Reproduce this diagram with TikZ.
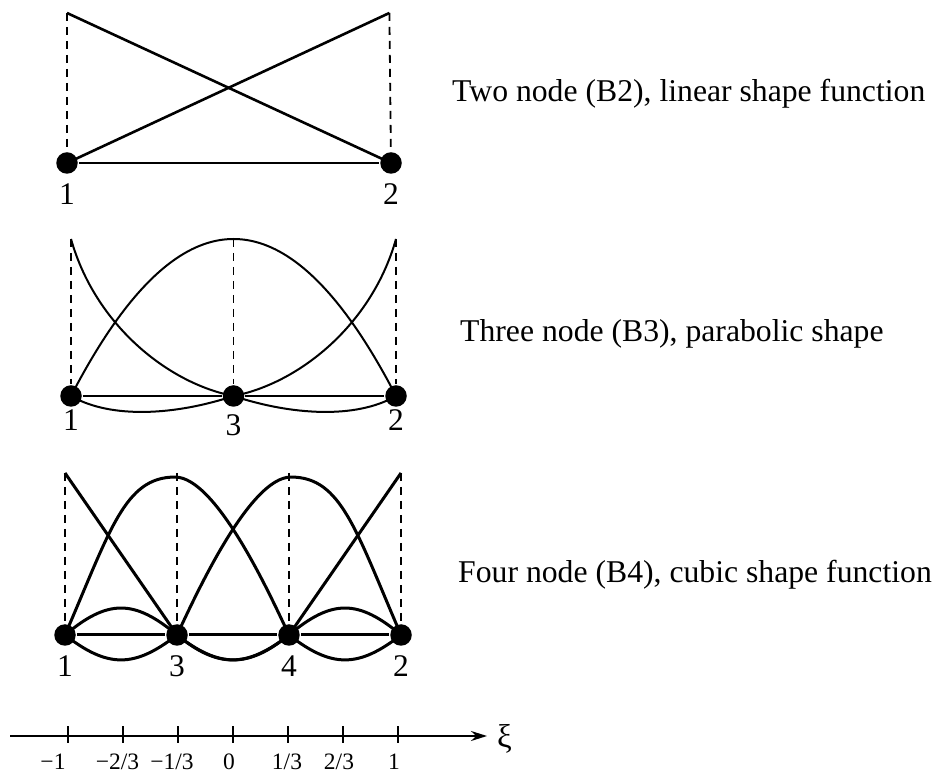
\documentclass[tikz,border=0pt]{standalone}
\usepackage{fontspec}
\setmainfont{Liberation Serif}
\usetikzlibrary{arrows.meta,positioning}
\tikzset{
  nodedot/.style={circle,fill=black,inner sep=0pt,minimum size=21.5pt},
  numlab/.style={font=\fontsize{31.5}{32}\selectfont,inner sep=1pt},
  caption/.style={font=\fontsize{31.7}{36}\selectfont,anchor=base west,inner sep=0pt},
  ticklab/.style={font=\fontsize{23.5}{24}\selectfont,anchor=base,inner sep=0pt},
  dashline/.style={line width=1.8pt,dash pattern=on 8pt off 6pt},
}

\begin{document}
\begin{tikzpicture}[>=Stealth,x=1pt,y=1pt,line join=round]
  \useasboundingbox (0,0) rectangle (941,773);
  % two node element, linear functions
  \begin{scope}[shift={(229,610)},x=162pt,y=150pt,line width=2.6pt]
    \node[nodedot] (a1) at (-1,0) {};
    \node[nodedot] (a2) at (1,0) {};
    \coordinate (a1t) at (-1,1);
    \coordinate (a2t) at (0.99,1);
    \draw (a1t) -- (a2.center);
    \draw (a1.center) -- (a2t);
    \draw (a1) -- (a2);
    \draw[dashline] (a1t) -- (a1);
    \draw[dashline] (a2t) -- (a2);
    \node[numlab,below=6pt of a1] (a1lab) {1};
    \node[numlab,below=6pt of a2] (a2lab) {2};
  \end{scope}
  % three node element, parabolas (end ones drawn by hand)
  \begin{scope}[shift={(233.5,377)},x=162.5pt,y=157pt,line width=2pt]
    \node[nodedot] (b1) at (-1,0) {};
    \node[nodedot] (b3) at (0,0) {};
    \node[nodedot] (b2) at (1,0) {};
    \foreach \n/\xx in {b1/-1,b3/0,b2/1}
      \coordinate (\n t) at (\xx,1);
    \draw (b1t) .. controls (-0.85,0.45) and (-0.4,0.08) .. (b3.center)
      .. controls (0.35,-0.12) and (0.75,-0.15) .. (b2.center);
    \draw (b2t) .. controls (0.85,0.45) and (0.4,0.08) .. (b3.center)
      .. controls (-0.35,-0.12) and (-0.75,-0.15) .. (b1.center);
    \draw[domain=-1:1,samples=60,smooth] plot (\x,{1-\x*\x});
    \draw (b1) -- (b3) -- (b2);
    \foreach \n in {b1,b3,b2}
      \draw[dashline] (\n t) -- (\n);
    \node[numlab,below=0pt of b1] (b1lab) {1};
    \node[numlab,below=5pt of b3] (b3lab) {3};
    \node[numlab,below=0pt of b2] (b2lab) {2};
  \end{scope}
  % four node element, cubics (drawn schematically)
  \begin{scope}[shift={(233,138)},x=168pt,y=162pt,line width=3pt]
    \node[nodedot] (c1) at (-1,0) {};
    \node[nodedot] (c3) at (-0.3333,0) {};
    \node[nodedot] (c4) at (0.3333,0) {};
    \node[nodedot] (c2) at (1,0) {};
    \foreach \n/\xx in {c1/-1,c3/-0.3333,c4/0.3333,c2/1}
      \coordinate (\n t) at (\xx,1);
    \draw (c1t) -- (c3.center) .. controls (-0.08,-0.205) and (0.09,-0.205) .. (c4.center)
      .. controls (0.588,0.222) and (0.745,0.222) .. (c2.center);
    \draw (c2t) -- (c4.center) .. controls (0.08,-0.205) and (-0.09,-0.205) .. (c3.center)
      .. controls (-0.588,0.222) and (-0.745,0.222) .. (c1.center);
    \draw (c1.center) .. controls (-0.73,0.648) and (-0.645,0.975) .. (-0.345,0.975)
      .. controls (-0.095,0.975) and (0.233,0.22) .. (c4.center)
      .. controls (0.588,-0.205) and (0.745,-0.205) .. (c2.center);
    \draw (c2.center) .. controls (0.73,0.648) and (0.645,0.975) .. (0.345,0.975)
      .. controls (0.095,0.975) and (-0.233,0.22) .. (c3.center)
      .. controls (-0.588,-0.205) and (-0.745,-0.205) .. (c1.center);
    \draw (c1) -- (c3) -- (c4) -- (c2);
    \foreach \n in {c1,c3,c4,c2}
      \draw[dashline] (\n t) -- (\n);
    \node[numlab,below=6pt of c1] (c1lab) {1};
    \node[numlab,below=6pt of c3] (c3lab) {3};
    \node[numlab,below=6pt of c4] (c4lab) {4};
    \node[numlab,below=6pt of c2] (c2lab) {2};
  \end{scope}
  \node[caption] (capa) at (452,671) {Two node (B2), linear shape function};
  \node[caption] (capb) at (460,431) {Three node (B3), parabolic shape};
  \node[caption] (capc) at (458,190) {Four node (B4), cubic shape function};
  % xi axis
  \coordinate (axstart) at (10,37);
  \coordinate (axend) at (487,37);
  \draw[line width=2pt,-{Stealth[length=16pt,width=10pt]}] (axstart) -- (axend);
  \node[font=\fontsize{33}{33}\selectfont,inner sep=0pt,right=10pt of axend,yshift=-3pt] (xilab) {ξ};
  \foreach \k/\lx/\lab [count=\i] in {-3/53/{−1},-2/117.5/{−2/3},-1/172/{−1/3},0/229/0,
      1/287/{1/3},2/339/{2/3},3/394/1} {
    \draw[line width=1.6pt] ({233+55*\k},47) -- ({233+55*\k},30);
    \node[ticklab] (tick\i) at (\lx,4) {\lab};
  }
\end{tikzpicture}
\end{document}
